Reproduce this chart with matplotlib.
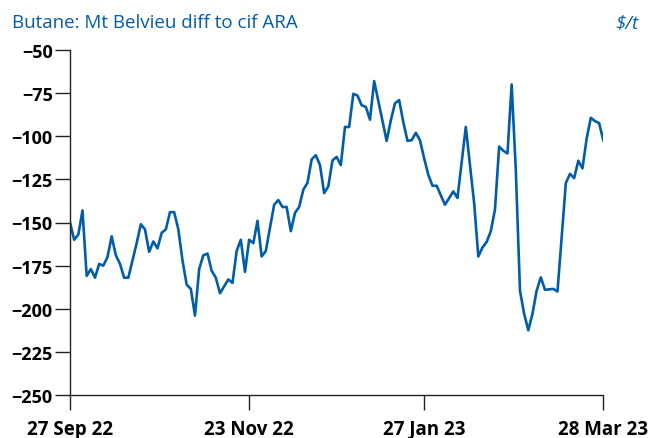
import matplotlib
matplotlib.use("Agg")
import matplotlib.pyplot as plt

# observation number (trading days) and price difference, $/t
obs = [
    0, 1, 2, 3, 4, 5, 6, 7, 8, 9, 10, 11, 12, 13, 14, 16, 17, 18, 19, 20,
    21, 22, 23, 24, 25, 26, 27, 28, 29, 30, 31, 32, 33, 34, 35, 36, 38, 39, 40, 41,
    42, 43, 44, 45, 46, 47, 48, 49, 50, 51, 52, 53, 54, 55, 56, 57, 58, 59, 60, 61,
    62, 63, 64, 65, 66, 67, 68, 69, 70, 71, 72, 73, 76, 77, 78, 79, 80, 81, 82, 83,
    84, 85, 86, 87, 88, 90, 92, 93, 95, 96, 97, 98, 99, 100, 101, 102, 103, 104, 105, 106,
    107, 108, 109, 110, 111, 112, 113, 114, 116, 117, 118, 119, 120, 121, 122, 123, 124, 125, 126, 127,
    128,
]
diff = [
    -150, -160, -157, -143, -181, -177, -182, -174, -175, -170, -158, -169, -174, -182, -182, -162, -151, -154, -167, -161,
    -165, -156, -154, -144, -144, -154, -172, -186, -188.5, -204, -177, -169, -168, -178, -182, -191, -183, -185, -166.5, -160,
    -178.6, -160, -162, -149, -169.7, -166.5, -153, -139.7, -137, -141, -141, -155, -144.4, -141, -131, -127, -113.4, -111, -116.7, -133,
    -129, -114, -112, -116.7, -94.6, -94.6, -75.4, -76.4, -82, -83, -90.4, -68, -102.7, -90.8, -80.9, -79, -91.8, -102.7, -102.3, -98,
    -102.3, -112.8, -122.4, -128.7, -128.7, -139.7, -132, -135.8, -94.6, -116.7, -138.7, -169.7, -164.5, -161.3, -155, -142.5, -106, -108.4, -110, -70,
    -119.5, -189.5, -202.9, -212.5, -202.9, -189.5, -181.8, -189, -188.5, -190, -158.8, -127.2, -121.8, -124.3, -114.2, -118.6, -101.4, -89.3, -91.2, -92.4,
    -102.3,
]

tick_obs = [0, 43, 85, 128]
tick_labels = ["27 Sep 22", "23 Nov 22", "27 Jan 23", "28 Mar 23"]
y_ticks = list(range(-250, -49, 25))

blue = "#005DAA"
plt.rcParams["font.family"] = ["Open Sans", "DejaVu Sans"]

fig = plt.figure(figsize=(6.62, 4.39), dpi=100)
ax = fig.add_axes([70 / 662, 43 / 439, 533.3 / 662, 345 / 439])

ax.plot(obs, diff, color=blue, linewidth=1.9, solid_joinstyle="round")

ax.set_xlim(0, 128)
ax.set_ylim(-250, -50)
ax.set_xticks(tick_obs)
ax.set_xticklabels(tick_labels)
ax.set_yticks(y_ticks)

for side in ("top", "right"):
    ax.spines[side].set_visible(False)
for side in ("left", "bottom"):
    ax.spines[side].set_color("#222222")
    ax.spines[side].set_linewidth(1.0)

ax.tick_params(axis="y", direction="out", length=10.5, width=1.0, color="#222222",
               pad=2, labelsize=13)
ax.tick_params(axis="x", direction="out", length=11, width=1.0, color="#222222",
               pad=17, labelsize=13.5)
for lbl in ax.get_xticklabels() + ax.get_yticklabels():
    lbl.set_fontweight("bold")
# keep all date labels on one baseline
for lbl in ax.get_xticklabels():
    lbl.set_verticalalignment("baseline")

fig.text(12 / 662, 1 - 28 / 439, "Butane: Mt Belvieu diff to cif ARA", color=blue,
         fontsize=13.5, ha="left", va="baseline")
fig.text(638 / 662, 1 - 28 / 439, "$/t", color=blue, fontsize=13.5, style="italic",
         ha="right", va="baseline")

fig.savefig("out.png", dpi=100)
